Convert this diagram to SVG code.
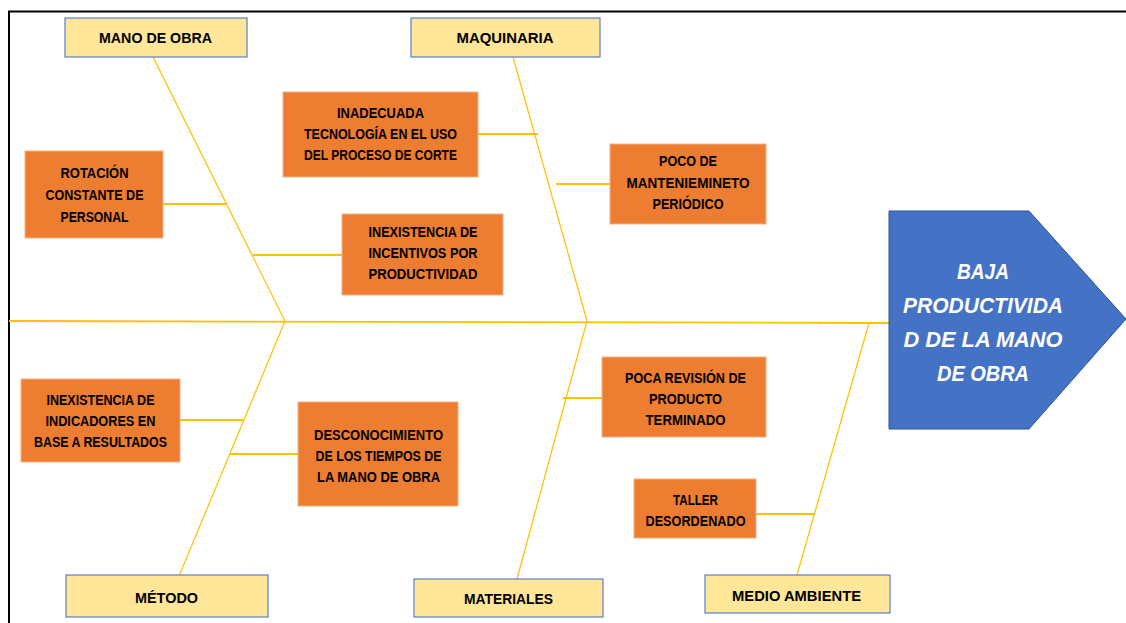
<svg xmlns="http://www.w3.org/2000/svg" width="1126" height="623" viewBox="0 0 1126 623">
  <style>
    .frame { fill: none; stroke: #000; stroke-width: 2; }
    .bone { fill: none; stroke: #FFC000; stroke-width: 1.2; }
    .spine { fill: none; stroke: #FFC000; stroke-width: 1.8; }
    .twig { fill: none; stroke: #FFC000; stroke-width: 1.8; }
    .cat rect { fill: #FFE699; stroke: #5B7FC7; stroke-width: 1.2; }
    .cause rect { fill: #ED7D31; stroke: #F4B183; stroke-width: 1; }
    text { font-family: "Liberation Sans", Arial, sans-serif; font-weight: bold; fill: #000; text-anchor: middle; }
    .cat text { font-size: 15px; }
    .cause text { font-size: 14px; }
    .effect text { font-size: 22px; font-style: italic; fill: #fff; }
  </style>

  <!-- outer frame -->
  <path class="frame" d="M9,623 V11.5 H1126"/>

  <!-- spine, bones and twigs -->
  <g id="connectors">
    <line class="spine" x1="9" y1="321" x2="889" y2="323"/>
    <line class="bone" x1="153" y1="57" x2="285" y2="321"/>
    <line class="bone" x1="513" y1="57" x2="587" y2="321"/>
    <line class="bone" x1="285" y1="321" x2="179.5" y2="575"/>
    <line class="bone" x1="587" y1="321" x2="517" y2="579"/>
    <line class="bone" x1="869" y1="323" x2="797" y2="575"/>
    <line class="twig" x1="163" y1="204" x2="226.5" y2="204"/>
    <line class="twig" x1="253" y1="255" x2="342" y2="255"/>
    <line class="twig" x1="478" y1="134" x2="538" y2="134"/>
    <line class="twig" x1="556" y1="184" x2="610" y2="184"/>
    <line class="twig" x1="180" y1="420" x2="243" y2="420"/>
    <line class="twig" x1="230" y1="454" x2="298" y2="454"/>
    <line class="twig" x1="563" y1="398" x2="602" y2="398"/>
    <line class="twig" x1="756" y1="514" x2="814" y2="514"/>
  </g>

  <!-- category headers -->
  <g id="cat-mano-de-obra" class="cat">
    <rect x="65" y="18" width="182" height="39"/>
    <text x="155.5" y="43" textLength="113" lengthAdjust="spacingAndGlyphs">MANO DE OBRA</text>
  </g>
  <g id="cat-maquinaria" class="cat">
    <rect x="411" y="18" width="189" height="39"/>
    <text x="505" y="43" textLength="97" lengthAdjust="spacingAndGlyphs">MAQUINARIA</text>
  </g>
  <g id="cat-metodo" class="cat">
    <rect x="66" y="575" width="202" height="42"/>
    <text x="166.5" y="603" textLength="63" lengthAdjust="spacingAndGlyphs">MÉTODO</text>
  </g>
  <g id="cat-materiales" class="cat">
    <rect x="414" y="579" width="189" height="38"/>
    <text x="508.5" y="604" textLength="89" lengthAdjust="spacingAndGlyphs">MATERIALES</text>
  </g>
  <g id="cat-medio-ambiente" class="cat">
    <rect x="705" y="575" width="185" height="38"/>
    <text x="796.5" y="601" textLength="129" lengthAdjust="spacingAndGlyphs">MEDIO AMBIENTE</text>
  </g>

  <!-- causes -->
  <g id="cause-tecnologia" class="cause">
    <rect x="283" y="92" width="195" height="85"/>
    <text x="380.5" y="118" textLength="87" lengthAdjust="spacingAndGlyphs">INADECUADA</text>
    <text x="380.5" y="139" textLength="153" lengthAdjust="spacingAndGlyphs">TECNOLOGÍA EN EL USO</text>
    <text x="380.5" y="160" textLength="153" lengthAdjust="spacingAndGlyphs">DEL PROCESO DE CORTE</text>
  </g>
  <g id="cause-rotacion" class="cause">
    <rect x="25" y="151" width="138" height="87"/>
    <text x="94.5" y="178" textLength="68" lengthAdjust="spacingAndGlyphs">ROTACIÓN</text>
    <text x="94.5" y="200" textLength="98" lengthAdjust="spacingAndGlyphs">CONSTANTE DE</text>
    <text x="94.5" y="221.5" textLength="68" lengthAdjust="spacingAndGlyphs">PERSONAL</text>
  </g>
  <g id="cause-incentivos" class="cause">
    <rect x="342" y="214" width="161" height="81"/>
    <text x="423" y="237" textLength="109" lengthAdjust="spacingAndGlyphs">INEXISTENCIA DE</text>
    <text x="423" y="258" textLength="109" lengthAdjust="spacingAndGlyphs">INCENTIVOS POR</text>
    <text x="423" y="279" textLength="109" lengthAdjust="spacingAndGlyphs">PRODUCTIVIDAD</text>
  </g>
  <g id="cause-mantenimiento" class="cause">
    <rect x="610" y="144" width="156" height="80"/>
    <text x="688" y="166" textLength="58" lengthAdjust="spacingAndGlyphs">POCO DE</text>
    <text x="688" y="188" textLength="123" lengthAdjust="spacingAndGlyphs">MANTENIEMINETO</text>
    <text x="688" y="208.5" textLength="71" lengthAdjust="spacingAndGlyphs">PERIÓDICO</text>
  </g>
  <g id="cause-indicadores" class="cause">
    <rect x="21" y="379" width="159" height="83"/>
    <text x="100.5" y="405" textLength="108" lengthAdjust="spacingAndGlyphs">INEXISTENCIA DE</text>
    <text x="100.5" y="426" textLength="110" lengthAdjust="spacingAndGlyphs">INDICADORES EN</text>
    <text x="100.5" y="447" textLength="133" lengthAdjust="spacingAndGlyphs">BASE A RESULTADOS</text>
  </g>
  <g id="cause-tiempos" class="cause">
    <rect x="298" y="402" width="160" height="104"/>
    <text x="378.5" y="440" textLength="129" lengthAdjust="spacingAndGlyphs">DESCONOCIMIENTO</text>
    <text x="378.5" y="461" textLength="126" lengthAdjust="spacingAndGlyphs">DE LOS TIEMPOS DE</text>
    <text x="378.5" y="482" textLength="123" lengthAdjust="spacingAndGlyphs">LA MANO DE OBRA</text>
  </g>
  <g id="cause-revision" class="cause">
    <rect x="602" y="357" width="164" height="80"/>
    <text x="685.5" y="383" textLength="121" lengthAdjust="spacingAndGlyphs">POCA REVISIÓN DE</text>
    <text x="685.5" y="404" textLength="73" lengthAdjust="spacingAndGlyphs">PRODUCTO</text>
    <text x="685.5" y="425" textLength="80" lengthAdjust="spacingAndGlyphs">TERMINADO</text>
  </g>
  <g id="cause-taller" class="cause">
    <rect x="634" y="479" width="122" height="59"/>
    <text x="695.5" y="505" textLength="45" lengthAdjust="spacingAndGlyphs">TALLER</text>
    <text x="695.5" y="526" textLength="100" lengthAdjust="spacingAndGlyphs">DESORDENADO</text>
  </g>

  <!-- effect head -->
  <g id="effect" class="effect">
    <polygon points="889,211 1029,211 1126,319 1029,429 889,429" fill="#4472C4" stroke="#2F5597" stroke-width="1"/>
    <text x="983" y="279" textLength="52" lengthAdjust="spacingAndGlyphs">BAJA</text>
    <text x="983" y="313" textLength="160" lengthAdjust="spacingAndGlyphs">PRODUCTIVIDA</text>
    <text x="983" y="347" textLength="159" lengthAdjust="spacingAndGlyphs">D DE LA MANO</text>
    <text x="983" y="381" textLength="92" lengthAdjust="spacingAndGlyphs">DE OBRA</text>
  </g>
</svg>
